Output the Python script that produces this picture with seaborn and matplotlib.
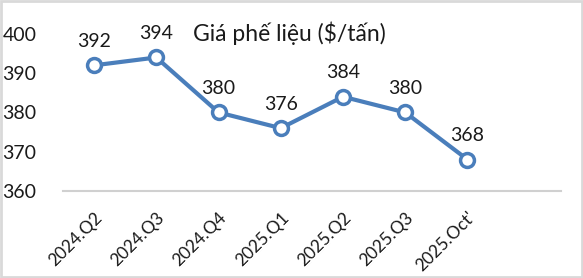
import matplotlib
matplotlib.use("Agg")
import matplotlib.pyplot as plt
import seaborn as sns
import pandas as pd
from matplotlib.patches import Rectangle

categories = ["2024.Q2", "2024.Q3", "2024.Q4", "2025.Q1", "2025.Q2", "2025.Q3", "2025.Oct'"]
prices = [392, 394, 380, 376, 384, 380, 368]
y_ticks = [360, 370, 380, 390, 400]
title = "Giá phế liệu ($/tấn)"

sns.set_style("white")
plt.rcParams['font.family'] = ['Lato', 'DejaVu Sans']

df = pd.DataFrame({"x": range(len(categories)), "price": prices})

fig = plt.figure(figsize=(5.83, 2.78), dpi=100)
ax = fig.add_axes([0.108, 0.313, 0.854, 0.565])
color = "#4a7ebb"
sns.lineplot(data=df, x="x", y="price", ax=ax, color=color, linewidth=3,
             marker="o", markersize=10, markerfacecolor="white",
             markeredgecolor=color, markeredgewidth=2.5, clip_on=False, zorder=3)

for i, v in enumerate(prices):
    ax.annotate(str(v), (i, v), xytext=(0, 11), textcoords="offset points",
                ha="center", va="bottom", fontsize=14, color="#1a1a1a")

ax.set_xlim(-0.5, 7.5)
ax.set_ylim(360, 400)
ax.set_yticks(y_ticks)
ax.set_yticklabels([str(t) for t in y_ticks], fontsize=14, color="#1a1a1a")
ax.set_xticks(range(len(categories)))
ax.set_xticklabels(categories, rotation=45, ha="right", rotation_mode="anchor",
                   fontsize=12.5, color="#1a1a1a")
ax.tick_params(axis="x", length=0, pad=13)
ax.tick_params(axis="y", length=0, pad=19)
for s in ["top", "right", "left"]:
    ax.spines[s].set_visible(False)
ax.spines["bottom"].set_color("#d0d0d0")
ax.spines["bottom"].set_linewidth(1.5)
ax.set_xlabel("")
ax.set_ylabel("")
ax.grid(False)

fig.text(0.497, 0.88, title, ha="center", va="center", fontsize=16.5, color="#1a1a1a")

fig.patches.append(Rectangle((0.002, 0.004), 0.996, 0.992, transform=fig.transFigure,
                             fill=False, edgecolor="#d9d9d9", linewidth=2))

fig.savefig("out.png", dpi=100)
